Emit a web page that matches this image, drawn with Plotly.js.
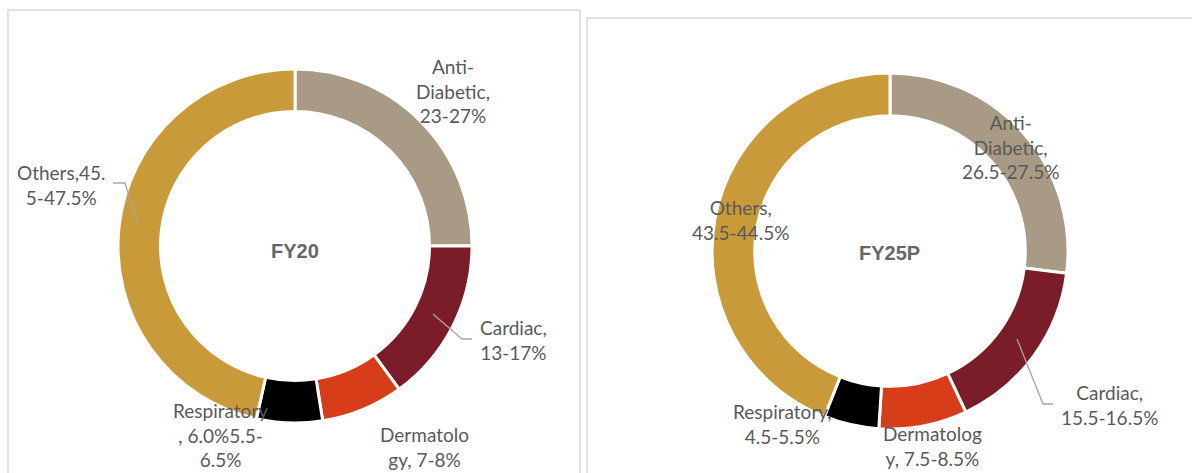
<!DOCTYPE html>
<html>
<head>
<meta charset="utf-8">
<script src="https://cdn.plot.ly/plotly-3.0.1.min.js"></script>
<style>
  html, body { margin: 0; padding: 0; background: #ffffff; }
  #chart { width: 1192px; height: 473px; }
</style>
</head>
<body>
<div id="chart"></div>
<script>
// ---- Data ----
const categories = ["Anti-Diabetic", "Cardiac", "Dermatology", "Respiratory", "Others"];
const fy20Values = [25, 15, 7.5, 6.0, 46.5];     // midpoints of ranges
const fy25Values = [27, 16, 8, 5, 44];
const fy20Labels = ["Anti-<br>Diabetic,<br>23-27%", "Cardiac,<br>13-17%", "Dermatolo<br>gy, 7-8%", "Respiratory<br>, 6.0%5.5-<br>6.5%", "Others,45.<br>5-47.5%"];
const fy25Labels = ["Anti-<br>Diabetic,<br>26.5-27.5%", "Cardiac,<br>15.5-16.5%", "Dermatolog<br>y, 7.5-8.5%", "Respiratory,<br>4.5-5.5%", "Others,<br>43.5-44.5%"];
const centerTitles = ["FY20", "FY25P"];
const colors = ["#A89A84", "#7B1C29", "#D63D18", "#000000", "#C99A3A"];

// ---- Layout helpers (pixel -> paper) ----
const W = 1192, H = 473;
const px = x => x / W;
const py = y => 1 - y / H;

function domainFor(cx, cy, r) {
  return { x: [px(cx - r), px(cx + r)], y: [py(cy + r), py(cy - r)] };
}

const pies = [
  { values: fy20Values, dom: domainFor(295, 246, 177) },
  { values: fy25Values, dom: domainFor(890, 251, 178) }
];

const traces = pies.map(p => ({
  type: "pie",
  labels: categories,
  values: p.values,
  hole: 0.76,
  sort: false,
  direction: "clockwise",
  rotation: 0,
  textinfo: "none",
  hoverinfo: "label+value",
  marker: { colors: colors, line: { color: "#ffffff", width: 3 } },
  domain: p.dom,
  showlegend: false
}));

// label placements (pixel centres)
const fy20Pos = [[453, 91], [513, 340], [424, 447], [220, 435], [61, 185]];
const fy25Pos = [[1010, 147], [1109, 405], [932, 446], [782, 424], [741, 220]];

const labelFont = { family: "Lato, 'Open Sans', sans-serif", size: 19, color: "#595959" };
const annotations = [];
fy20Labels.forEach((t, i) => annotations.push({
  xref: "paper", yref: "paper", x: px(fy20Pos[i][0]), y: py(fy20Pos[i][1]),
  xanchor: "center", yanchor: "middle", text: t, showarrow: false, font: labelFont, align: "center"
}));
fy25Labels.forEach((t, i) => annotations.push({
  xref: "paper", yref: "paper", x: px(fy25Pos[i][0]), y: py(fy25Pos[i][1]),
  xanchor: "center", yanchor: "middle", text: t, showarrow: false, font: labelFont, align: "center"
}));
const centerPos = [[295, 251], [889, 253]];
centerTitles.forEach((t, i) => annotations.push({
  xref: "paper", yref: "paper", x: px(centerPos[i][0]), y: py(centerPos[i][1]),
  xanchor: "center", yanchor: "middle", text: "<b>" + t + "</b>", showarrow: false,
  font: { family: "'Liberation Sans', Arial, sans-serif", size: 20, color: "#666666" }
}));

// leader lines and panel borders
function path(points) {
  return "M " + points.map(p => px(p[0]) + "," + py(p[1])).join(" L ");
}
const leaderLine = { color: "#A6A6A6", width: 1.3 };
const shapes = [
  { type: "rect", xref: "paper", yref: "paper", x0: px(8), x1: px(580), y0: py(480), y1: py(10),
    line: { color: "#D9D9D9", width: 1.5 }, fillcolor: "rgba(0,0,0,0)", layer: "below" },
  { type: "rect", xref: "paper", yref: "paper", x0: px(587), x1: px(1200), y0: py(480), y1: py(18),
    line: { color: "#D9D9D9", width: 1.5 }, fillcolor: "rgba(0,0,0,0)", layer: "below" },
  { type: "path", xref: "paper", yref: "paper", path: path([[113, 183], [125, 183], [138, 225]]), line: leaderLine },
  { type: "path", xref: "paper", yref: "paper", path: path([[433, 314], [462, 339], [472, 339]]), line: leaderLine },
  { type: "path", xref: "paper", yref: "paper", path: path([[1017, 339], [1043, 404], [1053, 404]]), line: leaderLine }
];

const layout = {
  width: W, height: H,
  margin: { l: 0, r: 0, t: 0, b: 0 },
  paper_bgcolor: "#ffffff",
  plot_bgcolor: "#ffffff",
  annotations: annotations,
  shapes: shapes,
  showlegend: false
};

Plotly.newPlot("chart", traces, layout, { displayModeBar: false, staticPlot: true });
</script>
</body>
</html>
